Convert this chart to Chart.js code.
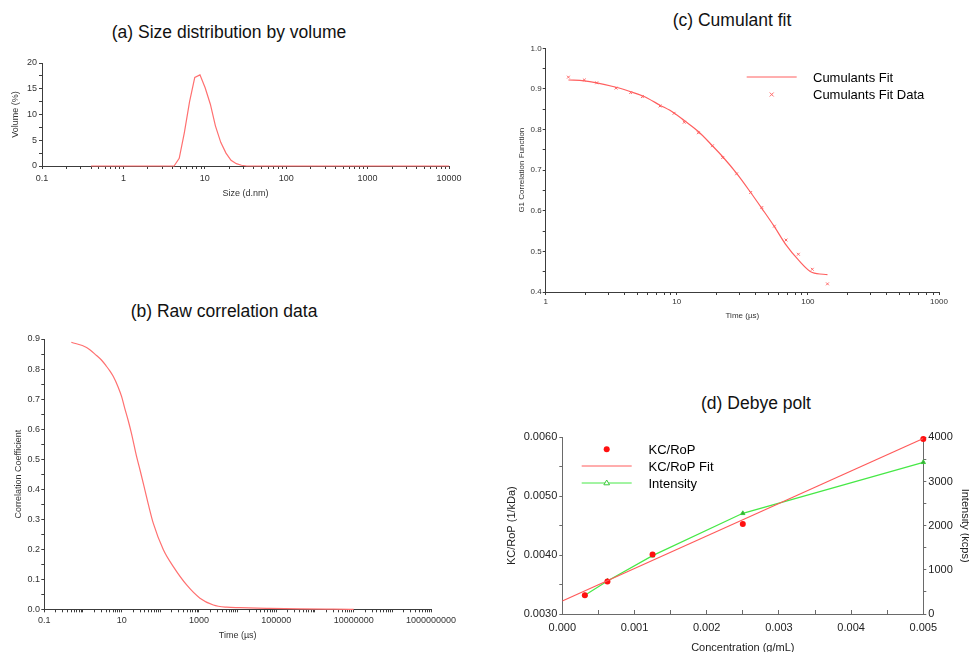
<!DOCTYPE html>
<html>
<head>
<meta charset="utf-8">
<script src="https://cdn.jsdelivr.net/npm/chart.js@4.4.1/dist/chart.umd.min.js"></script>
<style>
  body { margin: 0; background: #fff; }
  #page { position: relative; width: 969px; height: 652px; overflow: hidden; font-family: 'Liberation Sans', Arial, sans-serif; }
  #page canvas { position: absolute; left: 0; top: 0; }
  .panel-title { position: absolute; font-size: 17.5px; color: #111; white-space: nowrap; transform: translate(-50%, -50%); }
</style>
</head>
<body>
<div id="page">
  <div class="panel-title" style="left:229px; top:32px">(a) Size distribution by volume</div>
  <div class="panel-title" style="left:224px; top:311px">(b) Raw correlation data</div>
  <div class="panel-title" style="left:732px; top:20px">(c) Cumulant fit</div>
  <div class="panel-title" style="left:756px; top:403px">(d) Debye polt</div>
  <canvas id="size-chart" width="969" height="652"></canvas>
  <canvas id="raw-chart" width="969" height="652"></canvas>
  <canvas id="cumulant-chart" width="969" height="652"></canvas>
  <canvas id="debye-chart" width="969" height="652"></canvas>
</div>
<script>
// (a) size distribution by volume
const sizeNm = [0.4, 4.19, 4.85, 5.61, 6.50, 7.53, 8.72, 10.1, 11.7, 13.5, 15.7, 18.2, 21.0, 24.4, 28.2, 32.7, 10000];
const volumePct = [0, 0, 1.5, 6.5, 12.5, 17.2, 17.7, 15.2, 12.0, 7.8, 4.6, 2.5, 1.1, 0.45, 0.15, 0, 0];
const sizeTickLabels = ['0.1', '1', '10', '100', '1000', '10000'];
const volumeTickLabels = ['0', '5', '10', '15', '20'];

// (b) raw correlation data
const rawTimeUs = [0.5, 1.24, 2.25, 3, 4, 5, 6.1, 8, 10, 12, 14.9, 18, 24.4, 30, 40, 50, 66, 120, 217, 480, 1060, 2350, 5200, 11500, 56000, 410000, 3e6, 1e7];
const rawCorr = [0.889, 0.872, 0.845, 0.830, 0.810, 0.793, 0.775, 0.742, 0.708, 0.670, 0.627, 0.585, 0.508, 0.463, 0.397, 0.345, 0.286, 0.198, 0.142, 0.081, 0.037, 0.0144, 0.007, 0.0055, 0.0033, 0.0011, 0.0003, 0];
const rawTimeTickLabels = ['0.1', '10', '1000', '100000', '10000000', '1000000000'];
const rawCorrTickLabels = ['0.0', '0.1', '0.2', '0.3', '0.4', '0.5', '0.6', '0.7', '0.8', '0.9'];

// (c) cumulant fit
const fitTimeUs = [1.49, 1.97, 2.45, 3.44, 4.45, 5.46, 7.45, 9.53, 11.4, 14.6, 18.7, 22.4, 28.6, 36.6, 44.5, 55.5, 68.1, 84.6, 108, 141];
const fitDataG1 = [0.929, 0.922, 0.915, 0.902, 0.891, 0.881, 0.858, 0.840, 0.818, 0.792, 0.760, 0.731, 0.691, 0.645, 0.608, 0.562, 0.528, 0.493, 0.456, 0.420];
const fitCurveG1 = [0.922, 0.920, 0.915, 0.904, 0.893, 0.883, 0.860, 0.841, 0.822, 0.795, 0.760, 0.733, 0.692, 0.645, 0.606, 0.561, 0.516, 0.479, 0.448, 0.443];
const fitTimeTickLabels = ['1', '10', '100', '1000'];
const g1TickLabels = ['0.4', '0.5', '0.6', '0.7', '0.8', '0.9', '1.0'];

// (d) Debye plot
const concGmL = [0.0003125, 0.000625, 0.00125, 0.0025, 0.005];
const kcRop = [0.00332, 0.00355, 0.00401, 0.00453, 0.00597];
const intensityKcps = [423, 747, 1321, 2279, 3434];
const fitConc = [0, 0.005];
const fitKcRop = [0.00322, 0.00598];
const concTickLabels = ['0.000', '0.001', '0.002', '0.003', '0.004', '0.005'];
const kcRopTickLabels = ['0.0030', '0.0040', '0.0050', '0.0060'];
const intensityTickLabels = ['0', '1000', '2000', '3000', '4000'];

const FONT = "'Liberation Sans', Arial, sans-serif";

// decade ticks with 2..9 minor marks in between
function logTicks(fromExp, toExp) {
  const out = [];
  for (let e = fromExp; e < toExp; e++) {
    for (let k = 1; k < 10; k++) out.push(k * Math.pow(10, e));
  }
  out.push(Math.pow(10, toExp));
  return out;
}

function steps(min, max, step) {
  const out = [];
  const n = Math.round((max - min) / step);
  for (let i = 0; i <= n; i++) out.push(Math.round((min + i * step) * 1e9) / 1e9);
  return out;
}

const pts = (xs, ys) => xs.map((x, i) => ({ x, y: ys[i] }));

// axis with fixed box size, hand-picked tick positions and sparse labels
function makeAxis(o) {
  const labelVals = o.labels.map(Number);
  const horizontal = o.position === 'bottom';
  return {
    type: o.type,
    position: o.position,
    min: o.min,
    max: o.max,
    afterBuildTicks: s => { s.ticks = o.ticks.map(v => ({ value: v })); },
    afterFit: s => { if (horizontal) s.height = o.size; else s.width = o.size; },
    grid: { drawOnChartArea: false, drawTicks: true, tickLength: o.tickLen, tickColor: o.axisColor, color: o.axisColor },
    border: { display: true, color: o.axisColor, width: 1 },
    ticks: {
      autoSkip: false,
      maxRotation: 0,
      padding: o.pad,
      color: o.labelColor,
      font: { family: FONT, size: o.fontSize },
      callback: v => {
        const i = labelVals.findIndex(l => Math.abs(l - v) <= Math.abs(l) * 1e-6 + 1e-12);
        return i < 0 ? '' : o.labels[i];
      }
    },
    title: {
      display: true,
      text: o.title,
      color: o.labelColor,
      padding: o.titlePad,
      font: { family: FONT, size: o.titleSize, lineHeight: 1.2 }
    }
  };
}

function drawMark(ctx, m, x, y) {
  ctx.save();
  ctx.strokeStyle = m.color;
  ctx.fillStyle = m.fill || m.color;
  ctx.lineWidth = 1;
  ctx.beginPath();
  if (m.style === 'circle') {
    ctx.arc(x, y, m.r, 0, Math.PI * 2);
    ctx.fill();
  } else if (m.style === 'triangle') {
    ctx.moveTo(x, y - m.r);
    ctx.lineTo(x + m.r * 0.95, y + m.r * 0.6);
    ctx.lineTo(x - m.r * 0.95, y + m.r * 0.6);
    ctx.closePath();
    ctx.fill();
    ctx.stroke();
  } else {
    ctx.moveTo(x - m.r, y - m.r); ctx.lineTo(x + m.r, y + m.r);
    ctx.moveTo(x + m.r, y - m.r); ctx.lineTo(x - m.r, y + m.r);
    ctx.stroke();
  }
  ctx.restore();
}

// free-standing legend drawn at fixed spots inside the panel
function panelLegend(cfg) {
  return {
    id: 'panelLegend',
    afterDraw(chart) {
      const ctx = chart.ctx;
      ctx.save();
      ctx.font = cfg.fontSize + 'px ' + FONT;
      ctx.textBaseline = 'middle';
      cfg.items.forEach(it => {
        if (it.line) {
          ctx.strokeStyle = it.line;
          ctx.lineWidth = 1;
          ctx.beginPath();
          ctx.moveTo(cfg.x, it.y);
          ctx.lineTo(cfg.x + cfg.sampleW, it.y);
          ctx.stroke();
        }
        if (it.mark) drawMark(ctx, it.mark, cfg.x + cfg.sampleW / 2, it.y);
        ctx.fillStyle = '#000';
        ctx.fillText(it.text, cfg.textX, it.y + 1.4);
      });
      ctx.restore();
    }
  };
}

const baseOptions = (padding, scales) => ({
  responsive: false,
  animation: false,
  events: [],
  layout: { padding },
  plugins: { legend: { display: false }, tooltip: { enabled: false } },
  scales
});

const AXIS_DARK = '#3c3c3c';
const LABEL_DARK = '#333';

// (a)
new Chart(document.getElementById('size-chart'), {
  type: 'scatter',
  data: {
    datasets: [{
      data: pts(sizeNm, volumePct),
      showLine: true, borderColor: 'rgb(255,112,112)', borderWidth: 1.2,
      pointRadius: 0, tension: 0, clip: false
    }]
  },
  options: baseOptions({ left: 10, right: 520, top: 63, bottom: 452 }, {
    x: makeAxis({ type: 'logarithmic', position: 'bottom', min: 0.1, max: 10000, ticks: logTicks(-1, 4), labels: sizeTickLabels,
      size: 34, tickLen: 3, pad: 4.6, fontSize: 9, axisColor: AXIS_DARK, labelColor: LABEL_DARK,
      title: 'Size (d.nm)', titleSize: 9, titlePad: { top: 0, bottom: 0.6 } }),
    y: makeAxis({ type: 'linear', position: 'left', min: 0, max: 20, ticks: steps(0, 20, 2.5), labels: volumeTickLabels,
      size: 32, tickLen: 3, pad: 2, fontSize: 9, axisColor: AXIS_DARK, labelColor: LABEL_DARK,
      title: 'Volume (%)', titleSize: 9, titlePad: { top: 0, bottom: 0 } })
  })
});

// (b)
new Chart(document.getElementById('raw-chart'), {
  type: 'scatter',
  data: {
    datasets: [{
      data: pts(rawTimeUs, rawCorr),
      showLine: true, borderColor: 'rgb(255,112,112)', borderWidth: 1.2,
      pointRadius: 0, cubicInterpolationMode: 'monotone', clip: false
    }]
  },
  options: baseOptions({ left: 13.6, right: 538, top: 339, bottom: 10.6 }, {
    x: makeAxis({ type: 'logarithmic', position: 'bottom', min: 0.1, max: 1e9, ticks: logTicks(-1, 9), labels: rawTimeTickLabels,
      size: 32.1, tickLen: 3, pad: 3.3, fontSize: 9, axisColor: AXIS_DARK, labelColor: LABEL_DARK,
      title: 'Time (µs)', titleSize: 9, titlePad: { top: 0, bottom: 0 } }),
    y: makeAxis({ type: 'linear', position: 'left', min: 0, max: 0.9, ticks: steps(0, 0.9, 0.05), labels: rawCorrTickLabels,
      size: 30.7, tickLen: 3, pad: 1.3, fontSize: 9, axisColor: AXIS_DARK, labelColor: LABEL_DARK,
      title: 'Correlation Coefficient', titleSize: 9, titlePad: { top: 0, bottom: 0 } })
  })
});

// (c)
new Chart(document.getElementById('cumulant-chart'), {
  type: 'scatter',
  data: {
    datasets: [
      {
        label: 'Cumulants Fit',
        data: pts(fitTimeUs, fitCurveG1),
        showLine: true, borderColor: 'rgb(255,95,95)', borderWidth: 1.2,
        pointRadius: 0, cubicInterpolationMode: 'monotone'
      },
      {
        label: 'Cumulants Fit Data',
        data: pts(fitTimeUs, fitDataG1),
        showLine: false, pointStyle: 'crossRot', pointRadius: 2,
        borderColor: 'rgb(255,105,105)', pointBorderColor: 'rgb(255,105,105)', borderWidth: 1, clip: false
      }
    ]
  },
  options: baseOptions({ left: 516.9, right: 30, top: 48.3, bottom: 331.2 }, {
    x: makeAxis({ type: 'logarithmic', position: 'bottom', min: 1, max: 1000, ticks: logTicks(0, 3), labels: fitTimeTickLabels,
      size: 28.8, tickLen: 3, pad: 2.2, fontSize: 8, axisColor: AXIS_DARK, labelColor: LABEL_DARK,
      title: 'Time (µs)', titleSize: 8, titlePad: { top: 0, bottom: 0 } }),
    y: makeAxis({ type: 'linear', position: 'left', min: 0.4, max: 1.0, ticks: steps(0.4, 1.0, 0.05), labels: g1TickLabels,
      size: 28.8, tickLen: 3, pad: 1, fontSize: 8, axisColor: AXIS_DARK, labelColor: LABEL_DARK,
      title: 'G1 Correlation Function', titleSize: 8, titlePad: { top: 0, bottom: 0 } })
  }),
  plugins: [panelLegend({
    x: 746.7, sampleW: 50, textX: 813, fontSize: 13,
    items: [
      { text: 'Cumulants Fit', y: 77, line: 'rgb(255,95,95)' },
      { text: 'Cumulants Fit Data', y: 94.5, mark: { style: 'crossRot', r: 2, color: 'rgb(255,105,105)' } }
    ]
  })]
});

// (d)
new Chart(document.getElementById('debye-chart'), {
  type: 'scatter',
  data: {
    datasets: [
      {
        label: 'KC/RoP Fit',
        data: pts(fitConc, fitKcRop),
        showLine: true, borderColor: 'rgb(255,90,90)', borderWidth: 1.2,
        pointRadius: 0, yAxisID: 'y'
      },
      {
        label: 'KC/RoP',
        data: pts(concGmL, kcRop),
        showLine: false, pointStyle: 'circle', pointRadius: 3,
        backgroundColor: '#ff1010', borderColor: '#ff1010', borderWidth: 0,
        yAxisID: 'y', clip: false
      },
      {
        label: 'Intensity',
        data: pts(concGmL, intensityKcps),
        showLine: true, borderColor: 'rgb(70,232,70)', borderWidth: 1.2,
        pointStyle: 'triangle', pointRadius: 2.5,
        pointBackgroundColor: 'rgb(50,170,50)', pointBorderColor: 'rgb(60,200,60)', pointBorderWidth: 1,
        yAxisID: 'y1', clip: false
      }
    ]
  },
  options: baseOptions({ left: 505.1, right: 0, top: 437.3, bottom: 0 }, {
    x: makeAxis({ type: 'linear', position: 'bottom', min: 0, max: 0.005, ticks: steps(0, 0.005, 0.0005), labels: concTickLabels,
      size: 38, tickLen: -4, pad: 11.7, fontSize: 11, axisColor: '#6a6a6a', labelColor: '#222',
      title: 'Concentration (g/mL)', titleSize: 11, titlePad: { top: 0, bottom: -2.6 } }),
    y: makeAxis({ type: 'linear', position: 'left', min: 0.003, max: 0.006, ticks: steps(0.003, 0.006, 0.0005), labels: kcRopTickLabels,
      size: 57.2, tickLen: 3, pad: 2, fontSize: 11, axisColor: '#6a6a6a', labelColor: '#222',
      title: 'KC/RoP (1/kDa)', titleSize: 11, titlePad: { top: 0, bottom: 0 } }),
    y1: makeAxis({ type: 'linear', position: 'right', min: 0, max: 4000, ticks: steps(0, 4000, 500), labels: intensityTickLabels,
      size: 45.7, tickLen: 3, pad: 2, fontSize: 11, axisColor: '#6a6a6a', labelColor: '#222',
      title: 'Intensity (kcps)', titleSize: 11, titlePad: { top: -2.6, bottom: 0 } })
  }),
  plugins: [panelLegend({
    x: 581.7, sampleW: 50, textX: 648.5, fontSize: 13,
    items: [
      { text: 'KC/RoP', y: 449.3, mark: { style: 'circle', r: 3, color: '#ff1010' } },
      { text: 'KC/RoP Fit', y: 466, line: 'rgb(255,90,90)' },
      { text: 'Intensity', y: 483, line: 'rgb(70,232,70)', mark: { style: 'triangle', r: 3, color: 'rgb(60,200,60)', fill: '#fff' } }
    ]
  })]
});
</script>
</body>
</html>
